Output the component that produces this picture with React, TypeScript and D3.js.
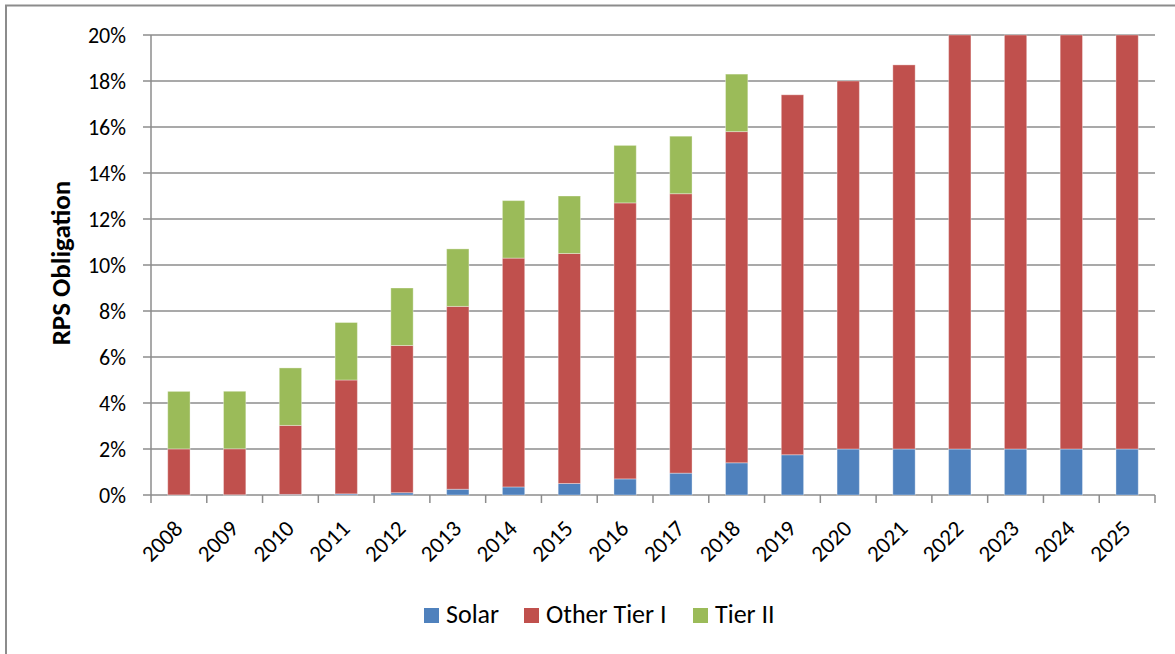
import React from "react";
import * as d3 from "d3";

const years = ["2008","2009","2010","2011","2012","2013","2014","2015","2016","2017","2018","2019","2020","2021","2022","2023","2024","2025"];
const solar = [0.005,0.01,0.025,0.05,0.1,0.25,0.35,0.5,0.7,0.95,1.4,1.75,2,2,2,2,2,2];
const otherTier1 = [2.0,2.0,3.0,4.95,6.4,7.95,9.95,10.0,12.0,12.15,14.4,15.65,16.0,16.7,18,18,18,18];
const tier2 = [2.5,2.5,2.5,2.5,2.5,2.5,2.5,2.5,2.5,2.5,2.5,0,0,0,0,0,0,0];
const yTicks = [0,2,4,6,8,10,12,14,16,18,20];
const seriesNames = ["Solar","Other Tier I","Tier II"];
const colors = ["#4F81BD","#C0504D","#9BBB59"];

const W = 1175, H = 654;
const left = 151, right = 1155, top = 35, bottom = 495;
const FONT = "Carlito, Lato, 'Open Sans', sans-serif";

export default function App() {
  const x = d3.scaleBand<string>().domain(years).range([left, right]).paddingInner(0.6).paddingOuter(0.3);
  const xb = d3.scaleBand<string>().domain(years).range([left, right]);
  const y = d3.scaleLinear().domain([0, 20]).range([bottom, top]);
  const rows = years.map((yr, i) => ({ year: yr, s0: solar[i], s1: otherTier1[i], s2: tier2[i] }));
  const stack = d3.stack<any>().keys(["s0","s1","s2"]);
  const series = stack(rows);

  const legendItems = [
    { name: seriesNames[0], x: 424 },
    { name: seriesNames[1], x: 524 },
    { name: seriesNames[2], x: 693 },
  ];

  return (
    <svg width={W} height={H} style={{ position: "absolute", left: 0, top: 0, background: "#fff" }} fontFamily={FONT}>
      <rect x={6} y={5.5} width={W + 10} height={H + 10} fill="#fff" stroke="#8c8c8c" strokeWidth={2} />
      {yTicks.map(t => (
        <g key={t}>
          <line x1={left - 8} x2={right} y1={y(t)} y2={y(t)} stroke="#8c8c8c" strokeWidth={1.5} />
          <text x={left - 25} y={y(t)} dy="0.36em" textAnchor="end" fontSize={22} fill="#000">{t}%</text>
        </g>
      ))}
      <line x1={left} x2={left} y1={top} y2={bottom + 8} stroke="#8c8c8c" strokeWidth={1.5} />
      {years.map((yr) => (
        <line key={yr} x1={xb(yr)! + xb.bandwidth()} x2={xb(yr)! + xb.bandwidth()} y1={bottom} y2={bottom + 8} stroke="#8c8c8c" strokeWidth={1.5} />
      ))}
      {series.map((s, si) => (
        <g key={si} fill={colors[si]}>
          {s.map((d, i) => (
            d[1] - d[0] > 0 ? (
              <rect key={i} x={x(years[i])!} width={x.bandwidth()} y={y(d[1])} height={y(d[0]) - y(d[1])} stroke="rgba(255,255,255,0.35)" strokeWidth={1} />
            ) : null
          ))}
        </g>
      ))}
      {years.map(yr => {
        const cx = x(yr)! + x.bandwidth() / 2 + 5;
        const cy = 530;
        return (
          <text key={yr} x={cx} y={cy} textAnchor="end" fontSize={23} fill="#000" transform={`rotate(-45, ${cx}, ${cy})`}>{yr}</text>
        );
      })}
      <text transform={`translate(70, 263) rotate(-90)`} textAnchor="middle" fontSize={27} fontWeight="bold" fill="#000">RPS Obligation</text>
      {legendItems.map((it, i) => (
        <g key={it.name}>
          <rect x={it.x} y={608} width={15} height={15} fill={colors[i]} />
          <text x={it.x + 22} y={623} fontSize={26} fill="#000">{it.name}</text>
        </g>
      ))}
    </svg>
  );
}
